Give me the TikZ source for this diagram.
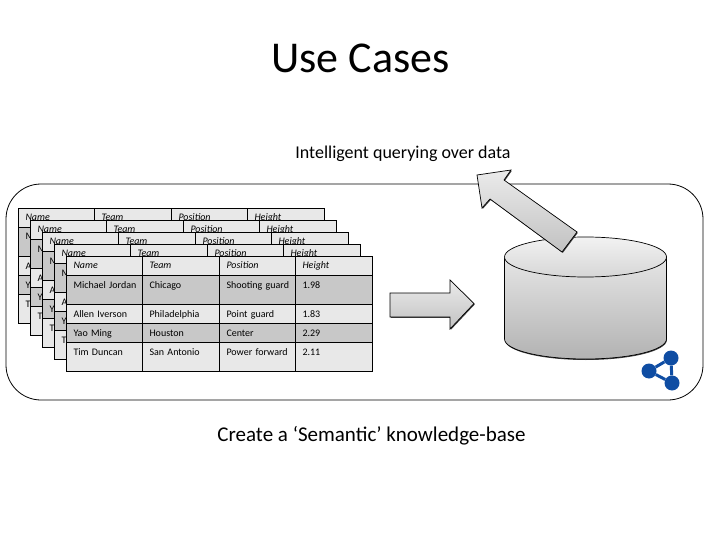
\documentclass[tikz,border=0pt]{standalone}
\usepackage{fontspec}
\setmainfont{Carlito}
\usetikzlibrary{positioning, shadows}
\definecolor{cellLight}{HTML}{E8E8E8}
\definecolor{cellDark}{HTML}{C8C8C8}
\definecolor{iconBlue}{HTML}{0F4DA3}

\begin{document}
\begin{tikzpicture}[x=1pt, y=-1pt, line join=miter,
    frame/.style={draw, line width=0.8pt, rectangle, rounded corners=35pt, minimum width=697pt, minimum height=216pt},
    cell/.style={draw=black, line width=0.8pt, inner sep=0pt, outer sep=0pt, font=\fontsize{10}{12}\selectfont, align=left,
        text height=12.5pt, execute at begin node=\hspace*{7.5pt}},
    colA/.style={text width=76pt}, colB/.style={text width=77pt},
    headcell/.style={cell, fill=cellLight, text depth=7pt, font=\fontsize{10}{12}\selectfont\itshape},
    tallrow/.style={text depth=16.5pt}, thinrow/.style={text depth=6.5pt},
    lite/.style={cell, fill=cellLight}, dark/.style={cell, fill=cellDark},
    blockarrow/.style={draw, line width=0.7pt, top color=black!8, bottom color=black!24,
        drop shadow={shadow xshift=0.8pt, shadow yshift=-0.9pt, fill=black!75, opacity=1}},
    iconnode/.style={circle, fill=iconBlue, inner sep=0pt, minimum size=15pt},
    iconlink/.style={draw=iconBlue, line width=3pt}]
    \useasboundingbox (0,0) rectangle (720,540);

    \node[font=\fontsize{44}{50}\selectfont, anchor=base] (title) at (360.5,73) {Use Cases};
    \node[font=\fontsize{18}{22}\selectfont, anchor=base] (query) at (403,158.5) {Intelligent querying over data};
    \node[frame] (box) at (354.5,292) {};

    % one table after the other, each on top of the last
    \foreach \k in {0,...,4} {
        \coordinate (t\k) at ({18+12*\k},{208+12*\k});
        \node[headcell, colA, anchor=north west] (t\k-h-a) at (t\k) {Name};
        \node[headcell, colB, right=0pt of t\k-h-a] (t\k-h-b) {Team};
        \node[headcell, colA, right=0pt of t\k-h-b] (t\k-h-c) {Position};
        \node[headcell, colB, right=0pt of t\k-h-c] (t\k-h-d) {Height};
        \foreach \r/\p/\kind/\high/\na/\te/\po/\he in {
            1/h/dark/tallrow/Michael Jordan/Chicago/Shooting guard/1.98,
            2/1/lite/thinrow/Allen Iverson/Philadelphia/Point guard/1.83,
            3/2/dark/thinrow/Yao Ming/Houston/Center/2.29,
            4/3/lite/tallrow/Tim Duncan/San Antonio/Power forward/2.11} {
            \node[\kind, \high, colA, below=0pt of t\k-\p-a] (t\k-\r-a) {\na};
            \node[\kind, \high, colB, right=0pt of t\k-\r-a] (t\k-\r-b) {\te};
            \node[\kind, \high, colA, right=0pt of t\k-\r-b] (t\k-\r-c) {\po};
            \node[\kind, \high, colB, right=0pt of t\k-\r-c] (t\k-\r-d) {\he};
        }
    }

    % knowledge base
    \path[draw, line width=0.7pt, top color=black!10, bottom color=black!30,
        drop shadow={shadow xshift=0.4pt, shadow yshift=-1pt, fill=black!75, opacity=1}]
        (504.5,257) -- (504.5,339) arc[start angle=180, end angle=360, x radius=81pt, y radius=20pt] -- (666.5,257) -- cycle;
    \path[draw, line width=0.7pt, top color=black!5, bottom color=black!16] (585.5,257) ellipse [x radius=81pt, y radius=20pt];

    \path[blockarrow] (390,293) -- (450,293) -- (450,280) -- (474,303.5) -- (450,329) -- (450,317) -- (390,317) -- cycle;
    \path[blockarrow] (477,175) -- (511,170) -- (504,180) -- (577,232) -- (562,252) -- (490,199) -- (482,208) -- cycle;

    % icon
    \node[iconnode] (ic1) at (671,358) {};
    \node[iconnode] (ic2) at (672,383) {};
    \node[iconnode] (ic3) at (649,371) {};
    \draw[iconlink] (ic1) -- (ic2);
    \draw[iconlink] (ic2) -- (ic3);
    \draw[iconlink] (ic3) -- (ic1);

    \node[font=\fontsize{21}{25}\selectfont, anchor=base] (create) at (371.5,441) {Create a ‘Semantic’ knowledge-base};
\end{tikzpicture}
\end{document}
